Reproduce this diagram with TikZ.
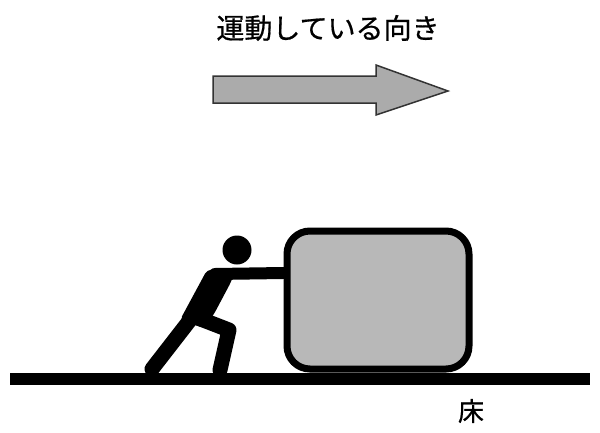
\documentclass[tikz,border=0pt]{standalone}
\usepackage{fontspec}
\newfontfamily\jpfont[FakeBold=0.6]{Noto Sans CJK JP}
\begin{document}
\begin{tikzpicture}[x=1pt,y=-1pt,
  limb/.style={line width=#1,line cap=round,line join=round,draw=black},
  label/.style={font=\jpfont\fontsize{28}{30}\selectfont,inner sep=0pt}]
\useasboundingbox (0,0) rectangle (600,432);
% heading and direction arrow
\node[label] (title) at (328,28) {運動している向き};
\draw[line width=1.5pt,draw=black!80,fill=black!33,line join=miter]
  (213,76) -- (376,76) -- (376,65) -- (448,91) -- (376,115) -- (376,103) -- (213,103) -- cycle;
% floor
\draw[line width=12pt] (10,379) -- (590,379);
\node[label,font=\jpfont\fontsize{26}{28}\selectfont] (floor) at (471,411) {床};
% box
\draw[line width=7pt,fill=black!28,rounded corners=23pt] (287,231) rectangle (469,369);
% person pushing
\fill (237,250) circle (14.5);
\draw[limb=12pt] (215,274) -- (283,273);
\fill[rounded corners=4pt] (207,270) -- (236,268) -- (231,282) -- (214,314) -- (204,328) -- (180,320) -- cycle;
\draw[limb=15pt] (190,320) -- (152,369);
\draw[limb=15pt] (198,318) -- (229,330) -- (220,370);
\end{tikzpicture}
\end{document}
